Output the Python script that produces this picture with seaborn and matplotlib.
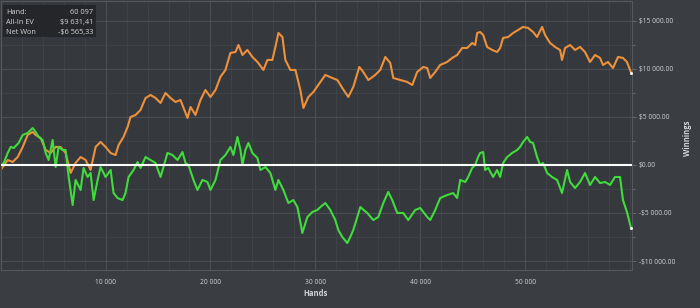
import matplotlib
matplotlib.use("Agg")
import matplotlib.pyplot as plt
import seaborn as sns
import numpy as np
from matplotlib.ticker import FuncFormatter, MultipleLocator, FixedLocator
from matplotlib.patches import FancyBboxPatch

# ---------------- data ----------------
ev_hands = [0, 670, 1140, 1620, 2100, 2570, 3050, 3330, 3810, 4290, 4760, 5240, 5710, 6190,
            6670, 7140, 7620, 8100, 8570, 9050, 9520, 10000, 10480, 10950, 11240, 11710, 12100,
            12380, 12860, 13330, 13810, 14290, 14760, 15240,
            15710, 16190, 16670, 17140, 17620, 17810, 18100, 18570, 19050, 19520, 20000, 20480,
            20950, 21430, 21900, 22380, 22670, 23050, 23520, 24000, 24480, 25050, 25430, 25900,
            26190, 26480, 26860, 27140, 27620, 28100, 28570, 28860, 29330, 29810,
            30480, 30950, 31620, 32100, 32570, 33140, 33620, 34190, 34570, 35050, 35710, 36190,
            36670, 37140, 37430, 38100, 38760, 39240, 39710, 40290, 40670, 40950, 41430, 41900,
            42570, 43050, 43520, 44000, 44480, 44950, 45240, 45430, 45710,
            46000, 46380, 46860, 47330, 47620, 47900, 48380, 48860, 49330, 49810, 50290, 50760,
            51140, 51620, 51900, 52380, 52860, 53330, 53520, 53810, 54290, 54760, 55240, 55710,
            56190, 56670, 57140, 57430, 57900, 58380, 58860, 59330, 59710, 60097]
ev_values = [-520, 520, 310, 830, 1880, 3130, 3440, 3130, 2810, 1560, 1250, 1880, 1880, 1250,
             -830, 210, 830, 520, -520, 1880, 2400, 1880, 1250, 1040, 2080, 2920, 3960,
             5000, 5210, 5730, 6980, 7290, 6980, 6460,
             7500, 6980, 6560, 6770, 5420, 4900, 6040, 5210, 6770, 7810, 7080, 7810,
             9170, 9900, 11670, 11770, 12500, 11460, 11980, 11250, 10730, 9900, 10940, 10940,
             12290, 13750, 13330, 10940, 9900, 9900, 7810, 5940, 7080, 7600,
             8650, 9380, 9060, 8850, 8020, 7080, 8130, 10210, 9690, 8850, 9380, 9900,
             11250, 10630, 9060, 8850, 8650, 8330, 9690, 10210, 10100, 9060, 9690, 10420,
             10730, 11150, 11460, 12190, 12190, 12710, 12500, 13750, 13850,
             13540, 12290, 11980, 11770, 12190, 13230, 13330, 13750, 14060, 14380, 14270, 13850,
             13330, 14380, 13540, 12710, 12290, 11980, 10940, 12190, 12500, 11980, 12290, 11770,
             10730, 11460, 11150, 10420, 10730, 10100, 11250, 11150, 10730, 9631.41]

won_hands = [0, 290, 670, 950, 1240, 1710, 2100, 2570, 3050, 3330, 3620, 4000, 4290, 4570,
             4950, 5240, 5520, 5900, 6190, 6480, 6860, 7140, 7620, 7900, 8290, 8570, 8860,
             9240, 9520, 10000, 10480, 10760, 11140, 11620, 11900, 12190, 12670, 13050, 13330,
             13810, 14290, 14760, 15240,
             15520, 15900, 16380, 16860, 17330, 17620, 17900, 18380, 18760, 19240, 19710, 20000,
             20480, 20950, 21430, 21900, 22190, 22570, 22860, 23050, 23330, 23620, 24000, 24480,
             24760, 25240, 25710, 26190, 26480, 26950, 27430, 27900, 28290, 28570, 28760, 29240,
             29710, 30190, 30480,
             30950, 31430, 31900, 32190, 32570, 33050, 33330, 33620, 34000, 34290, 34950, 35520,
             36000, 36480, 36950, 37330, 37810, 38380, 38860, 39520, 40000, 40670, 40950, 41430,
             41900, 42570, 43140, 43520, 43810, 44290, 44570, 44950, 45240, 45520,
             45710, 46000, 46190, 46480, 46950, 47330, 47620, 47900, 48290, 48760, 49240, 49520,
             49810, 50190, 50480, 50760, 51140, 51430, 51710, 52100, 52570, 53050, 53520, 54000,
             54290, 54760, 55240, 55710, 56190, 56670, 57140, 57620, 58100, 58570, 59050, 59330,
             59710, 60097]
won_values = [0, 210, 1250, 1880, 1770, 2290, 3130, 3330, 3850, 3440, 2920, 2600, 1250, 520,
              2600, -210, 1880, 1560, 1560, -1250, -4170, -1560, -2600, -310, -1250, -830, -3650,
              -1560, -210, -1250, -520, -2920, -3440, -3650, -2920, -1250, -520, 310, -310,
              830, 520, 210, -1250,
              -210, 1250, 1040, 520, 1350, 210, 0, -1560, -2600, -1560, -1770, -2600,
              -1560, 520, 1040, 1880, 1040, 2920, 1560, 0, 1560, 2290, 1250, 730,
              -520, -210, -830, -2600, -1560, -2600, -3960, -3650, -4380, -5940, -7080, -5420,
              -4900, -4690, -4380,
              -3960, -4690, -5730, -6770, -7500, -8130, -7500, -6770, -5420, -4380, -5000, -5730,
              -5420, -3960, -2810, -3650, -5000, -5000, -5730, -4690, -4480, -5420, -5730, -4690,
              -3440, -3130, -2920, -3440, -1560, -1770, -1250, -310, 0, 830,
              1250, 1350, -520, -310, -1250, -520, -1250, 210, 830, 1250, 1560, 1880,
              2400, 2920, 2400, 2290, 830, 0, 210, -830, -1250, -1560, -2920, -520,
              -1770, -2400, -1770, -830, -2080, -1250, -1880, -1770, -2080, -1250, -1250, -3650,
              -4900, -6565.33]

x_ticks = [10000, 20000, 30000, 40000, 50000]
y_ticks = [-10000, -5000, 0, 5000, 10000, 15000]
info_labels = ["Hand:", "All-In EV", "Net Won"]
info_values = ["60 097", "$9 631,41", "-$6 565,33"]

# ---------------- style ----------------
FIG_BG = "#3a3d42"
AX_BG = "#35383d"
TXT = "#d2d4d6"
sns.set_theme(style="dark")
plt.rcParams["font.family"] = ["Open Sans", "DejaVu Sans"]

fig = plt.figure(figsize=(7.0, 3.08), dpi=100, facecolor=FIG_BG)
ax = fig.add_axes([0.001, 1 - 270 / 308, 0.902, 269 / 308])
ax.set_facecolor(AX_BG)

ax.xaxis.set_major_locator(FixedLocator(x_ticks))
ax.xaxis.set_minor_locator(MultipleLocator(2000))
ax.yaxis.set_major_locator(FixedLocator(y_ticks))
ax.yaxis.set_minor_locator(MultipleLocator(2500))
ax.grid(which="major", color="#4b4e53", lw=0.8)
ax.grid(which="minor", color="#404348", lw=0.6)
ax.set_axisbelow(True)

sns.lineplot(x=ev_hands, y=ev_values, ax=ax, color="#ee913b", lw=1.5, estimator=None, sort=False)
sns.lineplot(x=won_hands, y=won_values, ax=ax, color="#3fdc3c", lw=1.5, estimator=None, sort=False)
ax.axhline(0, color="white", lw=1.5, zorder=5)
ax.scatter([ev_hands[-1], won_hands[-1]], [ev_values[-1], won_values[-1]], s=5, color="#f0f0f0",
           zorder=6, linewidths=0)

ax.set_xlim(0, 60200)
ax.set_ylim(-10937, 17080)

for s in ax.spines.values():
    s.set_visible(True)
    s.set_color("#55585d")
    s.set_linewidth(0.8)

ax.yaxis.tick_right()

def money(v, pos=None):
    s = f"{abs(v):,.2f}".replace(",", " ")
    return ("-$" if v < 0 else "$") + s

ax.yaxis.set_major_formatter(FuncFormatter(money))
ax.xaxis.set_major_formatter(FuncFormatter(lambda v, p: f"{int(v):,}".replace(",", " ")))
ax.tick_params(axis="y", which="both", right=True, length=3, width=0.6, color="#6a6d72",
               labelsize=4.8, labelcolor=TXT, pad=2)
ax.tick_params(axis="y", which="minor", length=2)
ax.tick_params(axis="x", which="both", bottom=False, labelsize=4.8, labelcolor=TXT, pad=0.5)
ax.set_xlabel("")
ax.set_ylabel("")

fig.text(316 / 700, 1 - 293 / 308, "Hands", fontsize=5.5, color=TXT, fontweight="bold",
         ha="center", va="center")
fig.text(688 / 700, 1 - 138 / 308, "Winnings", fontsize=5.5, color=TXT, fontweight="bold",
         ha="center", va="center", rotation=90)

# info box
box = FancyBboxPatch((3 / 700, 1 - 37 / 308), 93 / 700, 32 / 308, boxstyle="square,pad=0",
                     transform=fig.transFigure, facecolor="#232528", edgecolor="none", alpha=0.92,
                     zorder=10)
fig.patches.append(box)
for i, (lab, val) in enumerate(zip(info_labels, info_values)):
    yy = 1 - (12.5 + 10 * i) / 308
    fig.text(6 / 700, yy, lab, fontsize=5.3, color=TXT, va="center", ha="left", zorder=11)
    fig.text(93 / 700, yy, val, fontsize=5.3, color=TXT, va="center", ha="right", zorder=11)

fig.savefig("out.png", dpi=100, facecolor=FIG_BG)
